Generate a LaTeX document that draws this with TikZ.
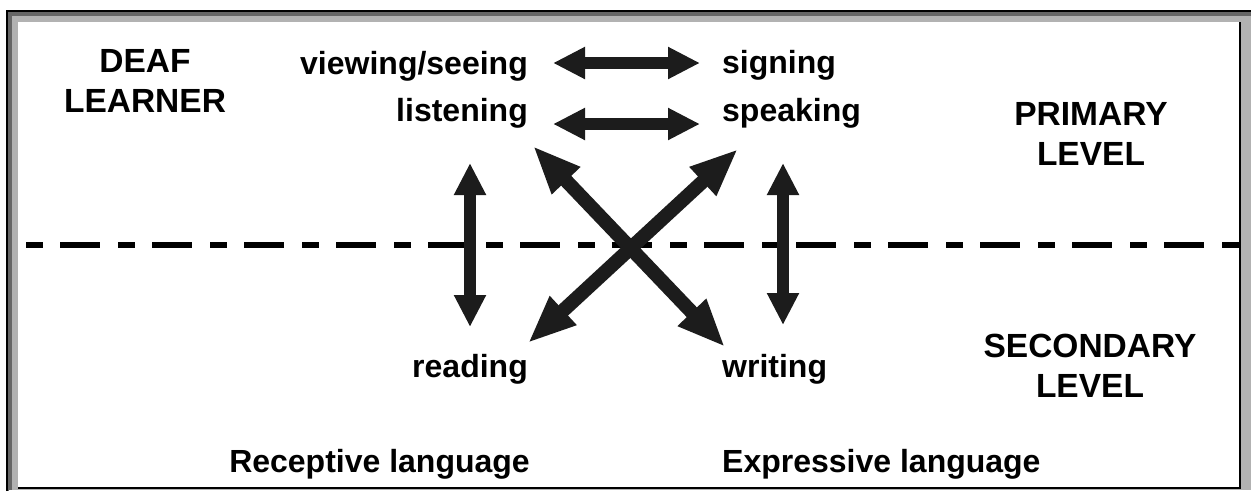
\documentclass[tikz,border=0pt]{standalone}
\usepackage{fontspec}
\setmainfont{Liberation Sans}
\usetikzlibrary{arrows.meta}
\definecolor{ink}{HTML}{1C1C1C}
\tikzset{
  lbl/.style={inner sep=0pt, font=\fontsize{32}{38}\selectfont\bfseries, text=black},
  lblc/.style={inner sep=0pt, align=center, font=\fontsize{33.5}{40}\selectfont\bfseries, text=black},
  dbl/.style={ink, line width=12pt, {Triangle[width=30pt,length=32pt]}-{Triangle[width=30pt,length=32pt]}},
  diag/.style={ink, line width=14pt, {Triangle[width=36pt,length=48pt]}-{Triangle[width=36pt,length=48pt]}},
  divider/.style={black, line width=6pt, dash pattern=on 17pt off 17pt on 40pt off 18pt}
}
\begin{document}
\begin{tikzpicture}[x=1pt,y=-1pt]
\useasboundingbox (0,0) rectangle (1251,491);
% frame
\fill[white] (0,0) rectangle (1251,491);
\fill[gray!60] (7,11) rectangle (1251,491);
\fill[gray!80!black] (7,11) rectangle (1251,16);
\fill[gray!80!black] (7,11) rectangle (12,491);
\fill[white] (18,22) rectangle (1240,488);
\draw[black, line width=2pt] (1240,22) -- (1240,488) -- (18,488);
\fill[white] (9,489.5) rectangle (1251,491);
\draw[black, line width=2pt] (7,491) -- (7,11) -- (1251,11);

% divider line
\coordinate (dl) at (26,245);
\coordinate (dr) at (1240,245);
\draw[divider] (dl) -- (dr);

% labels
\node[lblc, anchor=base] (deaf) at (145,112) {DEAF\\LEARNER};
\node[lbl, anchor=base east] (view) at (528,74) {viewing/seeing};
\node[lbl, anchor=base east] (listen) at (528,121) {listening};
\node[lbl, anchor=base west] (sign) at (722,73) {signing};
\node[lbl, anchor=base west] (speak) at (722,121) {speaking};
\node[lblc, anchor=base] (primary) at (1091,165) {PRIMARY\\LEVEL};
\node[lblc, anchor=base] (secondary) at (1090,397) {SECONDARY\\LEVEL};
\node[lbl, anchor=base east] (read) at (528,377) {reading};
\node[lbl, anchor=base west] (write) at (722,377) {writing};
\node[lbl, anchor=base east] (recep) at (530,472) {Receptive language};
\node[lbl, anchor=base west] (expr) at (722,472) {Expressive language};

% arrow end points
\coordinate (a1l) at (553,63);
\coordinate (a1r) at (700,63);
\coordinate (a2l) at (553,124);
\coordinate (a2r) at (700,124);
\coordinate (vlt) at (470,163);
\coordinate (vlb) at (470,327);
\coordinate (vrt) at (783,163);
\coordinate (vrb) at (783,325);
\coordinate (d1a) at (533,146);
\coordinate (d1b) at (725,347);
\coordinate (d2a) at (738,149);
\coordinate (d2b) at (528,343);

\draw[dbl] (a1l) -- (a1r);
\draw[dbl] (a2l) -- (a2r);
\draw[dbl] (vlt) -- (vlb);
\draw[dbl] (vrt) -- (vrb);
\draw[diag] (d1a) -- (d1b);
\draw[diag] (d2a) -- (d2b);
\end{tikzpicture}
\end{document}
